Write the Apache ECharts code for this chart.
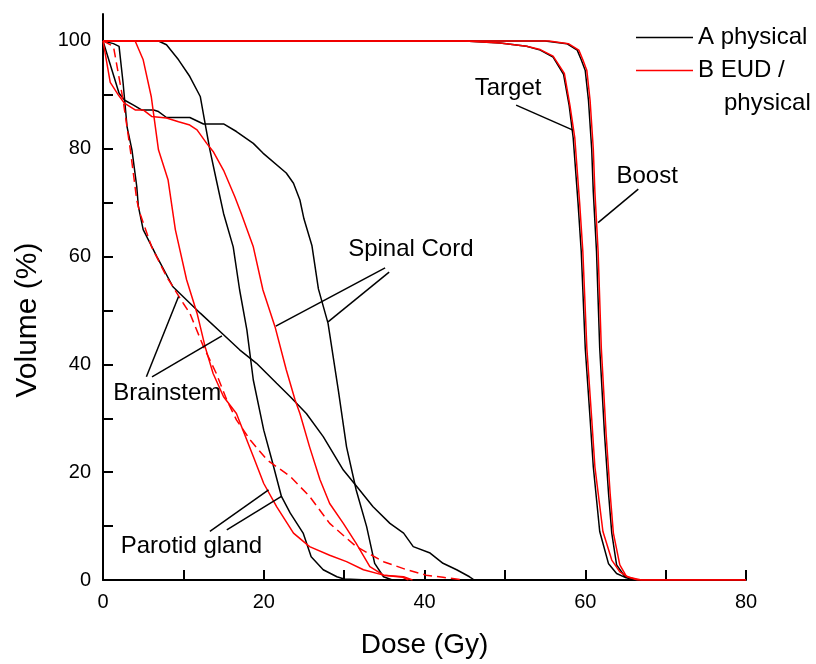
<!DOCTYPE html>
<html><head><meta charset="utf-8">
<script src="https://cdn.jsdelivr.net/npm/echarts@6/dist/echarts.min.js"></script>
<style>html,body{margin:0;padding:0;background:#fff}#c{width:816px;height:664px}</style>
</head><body><div id="c"></div>
<script>
// ---------- data (dose Gy, volume %) ----------
const xTickValues = [0,10,20,30,40,50,60,70,80];
const xLabelValues = [0,20,40,60,80];
const yTickValues = [0,10,20,30,40,50,60,70,80,90,100];
const yLabelValues = [0,20,40,60,80,100];

const targetA = [[0,100],[45,100],[49.4,99.6],[52.7,99],[54.4,98.3],[56,97],[57.3,93.8],[58,88],[58.5,82],[59.1,70],[59.5,61],[60,43],[60.6,30],[61,21],[61.8,9],[62.9,3],[63.9,1.2],[65.1,0.4],[66.5,0],[80,0]];
const targetB = [[0,100],[45,100],[49.4,99.6],[52.7,99],[54.4,98.4],[56,97.2],[57.4,94],[58.1,88],[58.7,82],[59.3,70],[59.7,61],[60.2,43],[60.8,30],[61.2,21],[62.2,9],[63.3,3.7],[64.3,1.5],[65.4,0.5],[67,0],[80,0]];
const boostA = [[0,100],[55,100],[57.7,99.5],[59,98.3],[59.5,96.5],[60,94.5],[60.4,89],[60.8,80],[61,72],[61.4,61],[61.8,43],[62.4,27],[62.9,16],[63.3,8.7],[63.9,2.8],[64.9,0.7],[66,0],[80,0]];
const boostB = [[0,100],[55.5,100],[57.9,99.5],[59.2,98.3],[59.7,96.5],[60.2,94.5],[60.6,89],[61.0,80],[61.2,72],[61.6,61],[62.0,43],[62.6,27],[63.1,16],[63.5,8.7],[64.3,2.8],[65.1,0.7],[66.5,0],[80,0]];
const spinalA = [[0,100],[2,90.3],[2.7,89],[3.8,88.1],[4.8,87.2],[6.3,87.2],[6.9,86.9],[7.9,85.8],[10.8,85.8],[12.5,84.6],[15,84.6],[16.6,83.2],[18.7,81],[19.9,79.2],[22.8,75.5],[23.7,73.6],[24.5,70.5],[25,67],[26,62],[26.8,54],[28,47.6],[29.3,35],[30.3,24.7],[31.5,16.7],[32.8,9.9],[33.8,3.1],[34.9,0.6],[36,0]];
const spinalB = [[0,100],[0.9,92.3],[1.9,90],[2.7,88.4],[4,87.2],[5,87.2],[6.05,86],[7.9,85.7],[9.4,85],[10.8,84.4],[11.7,83.5],[12.9,81],[13.7,79.5],[15,76],[16.4,71.1],[17.2,68],[18.7,61.8],[19.9,53.8],[21.4,47],[22.8,39],[23.9,33.4],[24.5,30.9],[25.7,24.7],[27,18.6],[28.2,14.2],[29.9,10.5],[31.5,6.8],[33.2,2.5],[34.9,0.9],[37.3,0.5],[38,0]];
const parotidA = [[0,100],[6.9,100],[7.9,99.3],[9.4,96.5],[10.8,93.4],[12.1,89.7],[12.7,84.7],[13.3,79.8],[14.1,74.2],[15,68],[16.2,61.8],[17,53.8],[17.9,46.4],[18.7,37.1],[20,27.8],[21,22.3],[22.2,15.5],[23.3,12.4],[24.9,8.7],[25.9,4.3],[27.4,1.9],[29.1,0.6],[30,0.2],[33,0]];
const parotidB = [[0,100],[4,100],[5,96.5],[6,89.7],[6.9,79.8],[8.1,74.2],[9,65],[10.4,55.7],[11.7,49.5],[12.7,43.3],[13.7,38.3],[15,34],[16.6,30.9],[18.7,22.9],[20,17.9],[21.6,13.6],[23.7,8.7],[25.7,6.2],[28.2,4.6],[30.3,3.4],[32.4,1.9],[34.9,0.9],[37.4,0.6],[38.5,0]];
const brainstemA = [[0,100],[1.3,99.5],[2,99],[2.5,92.2],[3,84],[3.6,79.8],[4.2,73],[4.4,69.3],[5,65],[6.7,60],[8.7,54.4],[12.1,49.5],[15,45.5],[17,42.7],[19.1,40.2],[21.6,36.5],[23.3,34],[25.3,30.9],[27.4,26.6],[29.9,20.4],[31.6,17.3],[33.6,13.6],[35.7,10.5],[37.4,8.7],[38.6,6.2],[40.7,5],[42.3,3.1],[44,1.9],[45.6,0.6],[46.2,0]];
const brainstemB = [[0,100],[1.3,99],[2.5,89],[3.4,79.8],[4.2,70.5],[4.6,68],[6.05,61.8],[7.9,56.3],[10,51.3],[10.8,49.5],[12.5,43.3],[14.1,38.3],[15.4,33.4],[16.6,29.7],[18.3,26],[20.4,22.3],[23.3,19.2],[25.7,15.5],[28.2,10.5],[31.5,6.2],[34.9,3.4],[37.8,1.9],[40.2,0.9],[42.3,0.5],[45,0]];

const nameA = 'A physical';
const nameB = 'B EUD / physical';

// annotations: text and leader lines in data coordinates
const annTexts = [
  {text:'Target', at:[50.4,91.2]},
  {text:'Boost', at:[67.7,74.8]},
  {text:'Spinal Cord', at:[38.3,61.3]},
  {text:'Brainstem', at:[8.0,34.6]},
  {text:'Parotid gland', at:[11.0,6.2]}
];
const annLines = [
  [[51.4,88.1],[58.4,83.5]],
  [[66.6,72.5],[61.6,66.3]],
  [[35.1,57.9],[21.5,47.1]],
  [[35.6,57.1],[28,47.9]],
  [[5.4,37.7],[9.4,52.6]],
  [[6.1,37.7],[14.8,45.3]],
  [[13.3,9.0],[20.6,16.7]],
  [[15.4,9.3],[22.2,15.5]]
];

// ---------- chart ----------
const FONT = "'Liberation Sans', Arial, sans-serif";
const chart = echarts.init(document.getElementById('c'), null, {renderer:'canvas'});

function ser(name, data, color, dashed) {
  return {
    type:'line', name, data, symbol:'none', showSymbol:false, smooth:false,
    silent:true, animation:false,
    itemStyle:{color}, 
    lineStyle:{color, width:1.5, type: dashed ? [9,5] : 'solid'}
  };
}

const option = {
  backgroundColor:'#fff',
  animation:false,
  grid:{left:103, right:70, top:14, bottom:84, containLabel:false},
  legend:{
    orient:'vertical', left:636, top:21, padding:0, itemGap:-33,
    itemWidth:57, itemHeight:1.6, icon:'rect',
    data:[
      {name:nameA},
      {name:nameB, textStyle:{padding:[33,0,0,0]}}
    ],
    formatter: n => n === nameB ? '{a|B EUD /}\n{b|physical}' : '{a|' + n + '}',
    textStyle:{
      color:'#000', fontFamily:FONT, fontSize:24, lineHeight:33,
      rich:{
        a:{fontFamily:FONT, fontSize:24, lineHeight:33, color:'#000'},
        b:{fontFamily:FONT, fontSize:24, lineHeight:33, color:'#000', padding:[0,0,0,26]}
      }
    },
    selectedMode:false
  },
  xAxis:{
    type:'value', min:0, max:80, interval:10,
    name:'Dose (Gy)', nameLocation:'middle', nameGap:51,
    nameTextStyle:{fontFamily:FONT, fontSize:28, color:'#000'},
    axisLine:{show:true, onZero:false, lineStyle:{color:'#000', width:2}},
    axisTick:{show:true, inside:true, length:10, lineStyle:{color:'#000', width:2}, customValues:xTickValues},
    axisLabel:{color:'#000', fontFamily:FONT, fontSize:20, margin:12, customValues:xLabelValues},
    splitLine:{show:false}
  },
  yAxis:{
    type:'value', min:0, max:105,
    name:'Volume (%)', nameLocation:'middle', nameGap:60,
    nameTextStyle:{fontFamily:FONT, fontSize:30, color:'#000', padding:[0,46,0,0]},
    axisLine:{show:true, onZero:false, lineStyle:{color:'#000', width:2}},
    axisTick:{show:true, inside:true, length:10, lineStyle:{color:'#000', width:2}, customValues:yTickValues},
    axisLabel:{color:'#000', fontFamily:FONT, fontSize:20, margin:12, customValues:yLabelValues},
    splitLine:{show:false}
  },
  series:[
    ser(nameA, targetA, '#000'),
    ser(nameA, boostA, '#000'),
    ser(nameA, spinalA, '#000'),
    ser(nameA, parotidA, '#000'),
    ser(nameA, brainstemA, '#000'),
    ser(nameB, targetB, '#ff0000'),
    ser(nameB, boostB, '#ff0000'),
    ser(nameB, spinalB, '#ff0000'),
    ser(nameB, parotidB, '#ff0000'),
    ser(nameB, brainstemB, '#ff0000', true)
  ]
};
chart.setOption(option);

function px(p){ return chart.convertToPixel({gridIndex:0}, p); }
const graphics = [];
annLines.forEach(l => {
  const a = px(l[0]), b = px(l[1]);
  graphics.push({type:'line', silent:true, shape:{x1:a[0], y1:a[1], x2:b[0], y2:b[1]},
    style:{stroke:'#000', lineWidth:1.5}, z:50});
});
annTexts.forEach(t => {
  const p = px(t.at);
  graphics.push({type:'text', silent:true, x:p[0], y:p[1], z:50,
    style:{text:t.text, fontFamily:FONT, fontSize:24, fill:'#000', align:'center', verticalAlign:'middle'}});
});
chart.setOption({graphic:graphics});
</script>
</body></html>
